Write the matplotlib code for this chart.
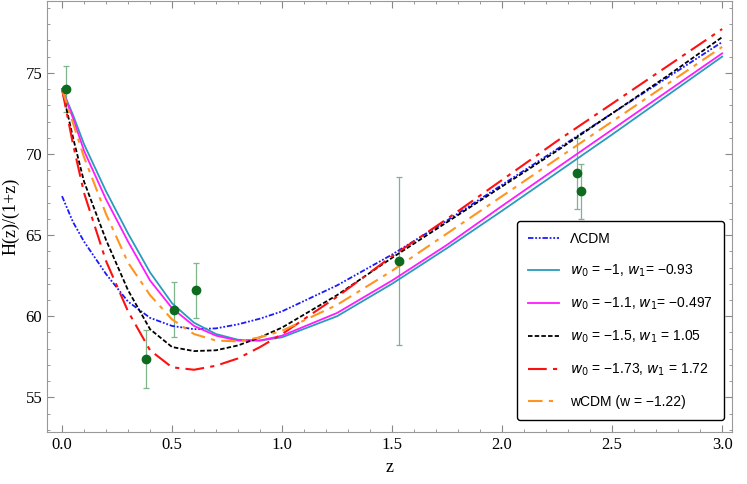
import matplotlib
matplotlib.use("Agg")
import matplotlib.pyplot as plt

z = [0.0, 0.05, 0.1, 0.2, 0.3, 0.4, 0.5, 0.6, 0.7, 0.8, 0.9, 1.0, 1.25, 1.5, 1.75, 2.0, 2.25, 2.5, 2.75, 3.0]
lcdm = [67.4, 65.8, 64.6, 62.6, 60.9, 59.9, 59.4, 59.2, 59.25, 59.5, 59.85, 60.3, 61.9, 63.8, 65.9, 68.1, 70.3, 72.5, 74.7, 76.9]
cyan = [74.0, 72.4, 70.6, 67.7, 65.1, 62.7, 60.8, 59.6, 58.9, 58.55, 58.5, 58.7, 60.0, 62.0, 64.2, 66.5, 68.85, 71.2, 73.6, 76.0]
magenta = [74.0, 72.2, 70.2, 67.2, 64.6, 62.2, 60.5, 59.4, 58.8, 58.5, 58.5, 58.8, 60.2, 62.2, 64.4, 66.8, 69.15, 71.5, 73.85, 76.2]
black = [74.0, 71.0, 68.3, 64.7, 61.6, 59.2, 58.1, 57.85, 57.9, 58.2, 58.7, 59.3, 61.3, 63.6, 65.8, 68.0, 70.2, 72.5, 74.8, 77.2]
red = [74.0, 70.6, 67.6, 63.4, 60.3, 57.9, 56.85, 56.7, 56.95, 57.4, 58.1, 58.9, 61.2, 63.7, 66.0, 68.4, 70.8, 73.1, 75.4, 77.7]
orange = [74.0, 71.9, 69.8, 66.3, 63.3, 61.3, 59.8, 58.9, 58.5, 58.45, 58.7, 59.1, 60.7, 62.8, 65.1, 67.4, 69.7, 72.0, 74.3, 76.6]

obs_z = [0.02, 0.38, 0.51, 0.61, 1.53, 2.34, 2.36]
obs_h = [74.0, 57.35, 60.4, 61.6, 63.4, 68.8, 67.7]
obs_err = [1.4, 1.8, 1.7, 1.7, 5.2, 2.2, 1.7]

plt.rcParams["font.family"] = "Liberation Serif"
fig = plt.figure(figsize=(7.47, 4.84), dpi=100)
ax = fig.add_axes([0.063, 0.107, 0.917, 0.89])

ax.errorbar(obs_z, obs_h, yerr=obs_err, fmt="none", ecolor="#7fb58a", elinewidth=0.9, capsize=2.5, capthick=0.9)
ax.plot(obs_z, obs_h, "o", color="#0e6a1e", ms=6, zorder=5)

ax.plot(z, lcdm, color="#1a1aff", lw=1.3, ls=(0, (3, 1, 1, 1, 1, 1)), label="ΛCDM")
ax.plot(z, cyan, color="#2a9bbd", lw=1.3, label=r"$w_0$ = −1, $w_1$= −0.93")
ax.plot(z, magenta, color="#ff1aff", lw=1.3, label=r"$w_0$ = −1.1, $w_1$= −0.497")
ax.plot(z, black, color="black", lw=1.3, ls=(0, (2.5, 1.2)), label=r"$w_0$ = −1.5, $w_1$ = 1.05")
ax.plot(z, red, color="#ff1010", lw=1.5, ls=(0, (9, 3, 2, 3)), label=r"$w_0$ = −1.73, $w_1$ = 1.72")
ax.plot(z, orange, color="#ff9520", lw=1.5, ls=(0, (7, 3, 2, 3)), label="wCDM (w = −1.22)")

ax.set_xlim(-0.068, 3.045)
ax.set_ylim(52.85, 79.4)
ax.set_xticks([0.0, 0.5, 1.0, 1.5, 2.0, 2.5, 3.0])
ax.set_yticks([55, 60, 65, 70, 75])
ax.minorticks_on()
ax.tick_params(which="both", direction="in", colors="#888888", labelcolor="black", labelsize=12, top=True, right=True)
ax.tick_params(which="major", length=5)
ax.tick_params(which="minor", length=2.5)
for s in ax.spines.values():
    s.set_color("#999999")
ax.set_xlabel("z", fontsize=13)
ax.set_ylabel("H(z)/(1+z)", fontsize=13)

leg = ax.legend(loc="lower right", bbox_to_anchor=(0.998, 0.012), prop={"family": "Liberation Sans", "size": 10},
                frameon=True, fancybox=True, edgecolor="black", framealpha=1, labelspacing=1.2,
                handlelength=2.2, borderpad=0.8)
leg.get_frame().set_linewidth(1.0)

fig.savefig("out.png", dpi=100)
